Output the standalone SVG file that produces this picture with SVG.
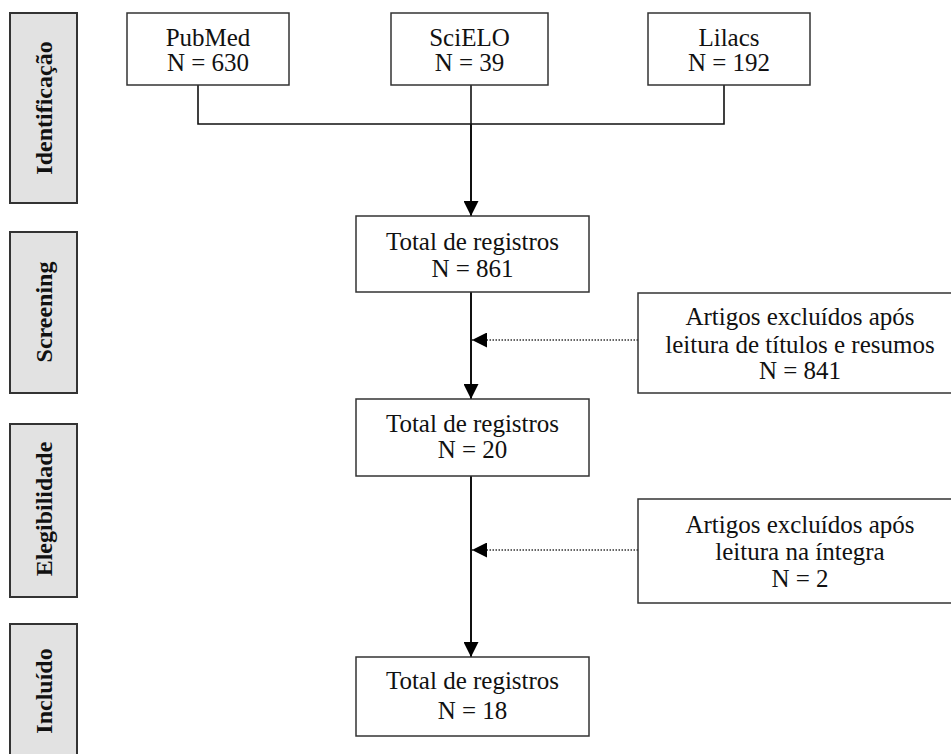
<svg xmlns="http://www.w3.org/2000/svg" width="951" height="754" viewBox="0 0 951 754">
<style>
.box{fill:#fff;stroke:#333;stroke-width:1.5}
.side{fill:#e2e2e2;stroke:#333;stroke-width:2}
.t{font-family:"Liberation Serif","Times New Roman",serif;font-size:25px;fill:#111;text-anchor:middle}
.s{font-family:"Liberation Serif","Times New Roman",serif;font-size:24px;font-weight:bold;fill:#111;text-anchor:middle}
.ln{fill:none;stroke:#111;stroke-width:1.6}
.main{fill:none;stroke:#111;stroke-width:2}
.dot{fill:none;stroke:#333;stroke-width:1.6;stroke-dasharray:1.5 1.5}
</style>
<defs>
<marker id="ah" markerWidth="15" markerHeight="15" refX="15" refY="7.5" orient="auto" markerUnits="userSpaceOnUse">
<path d="M0,0 L15,7.5 L0,15 Z" fill="#000"/>
</marker>
</defs>
<rect width="951" height="754" fill="#fff"/>
<g id="side-identificacao"><rect class="side" x="10" y="13" width="67" height="190"/><text class="s" transform="translate(52,108) rotate(-90)">Identificação</text></g>
<g id="side-screening"><rect class="side" x="10" y="232" width="67" height="161"/><text class="s" transform="translate(52,312) rotate(-90)">Screening</text></g>
<g id="side-elegibilidade"><rect class="side" x="10" y="424" width="67" height="173"/><text class="s" transform="translate(52,509) rotate(-90)">Elegibilidade</text></g>
<g id="side-incluido"><rect class="side" x="10" y="624" width="67" height="136"/><text class="s" transform="translate(52,691) rotate(-90)">Incluído</text></g>
<g id="connectors">
<polyline class="ln" points="198,85 198,124 724,124 724,85"/>
<line class="ln" x1="471" y1="85" x2="471" y2="124"/>
<line class="main" x1="471" y1="124" x2="471" y2="216" marker-end="url(#ah)"/>
<line class="main" x1="471" y1="292" x2="471" y2="399" marker-end="url(#ah)"/>
<line class="main" x1="471" y1="476" x2="471" y2="657" marker-end="url(#ah)"/>
<line class="dot" x1="638" y1="340" x2="472" y2="340" marker-end="url(#ah)"/>
<line class="dot" x1="638" y1="550" x2="472" y2="550" marker-end="url(#ah)"/>
</g>
<g id="pubmed"><rect class="box" x="127" y="13" width="162" height="72"/><text class="t" x="208" y="46">PubMed</text><text class="t" x="208" y="71">N = 630</text></g>
<g id="scielo"><rect class="box" x="391" y="13" width="157" height="72"/><text class="t" x="469.5" y="46">SciELO</text><text class="t" x="469.5" y="71">N = 39</text></g>
<g id="lilacs"><rect class="box" x="648" y="13" width="162" height="72"/><text class="t" x="729" y="46">Lilacs</text><text class="t" x="729" y="71">N = 192</text></g>
<g id="total-861"><rect class="box" x="356" y="216" width="233" height="76"/><text class="t" x="472.5" y="250">Total de registros</text><text class="t" x="472.5" y="277">N = 861</text></g>
<g id="excl-1"><rect class="box" x="638" y="293" width="330" height="100"/><text class="t" x="800" y="325">Artigos excluídos após</text><text class="t" x="800" y="353">leitura de títulos e resumos</text><text class="t" x="800" y="379">N = 841</text></g>
<g id="total-20"><rect class="box" x="356" y="399" width="233" height="77"/><text class="t" x="472.5" y="432">Total de registros</text><text class="t" x="472.5" y="458">N = 20</text></g>
<g id="excl-2"><rect class="box" x="638" y="499" width="330" height="104"/><text class="t" x="800" y="533">Artigos excluídos após</text><text class="t" x="800" y="560">leitura na íntegra</text><text class="t" x="800" y="587">N = 2</text></g>
<g id="total-18"><rect class="box" x="356" y="657" width="233" height="79"/><text class="t" x="472.5" y="689">Total de registros</text><text class="t" x="472.5" y="719">N = 18</text></g>
</svg>
